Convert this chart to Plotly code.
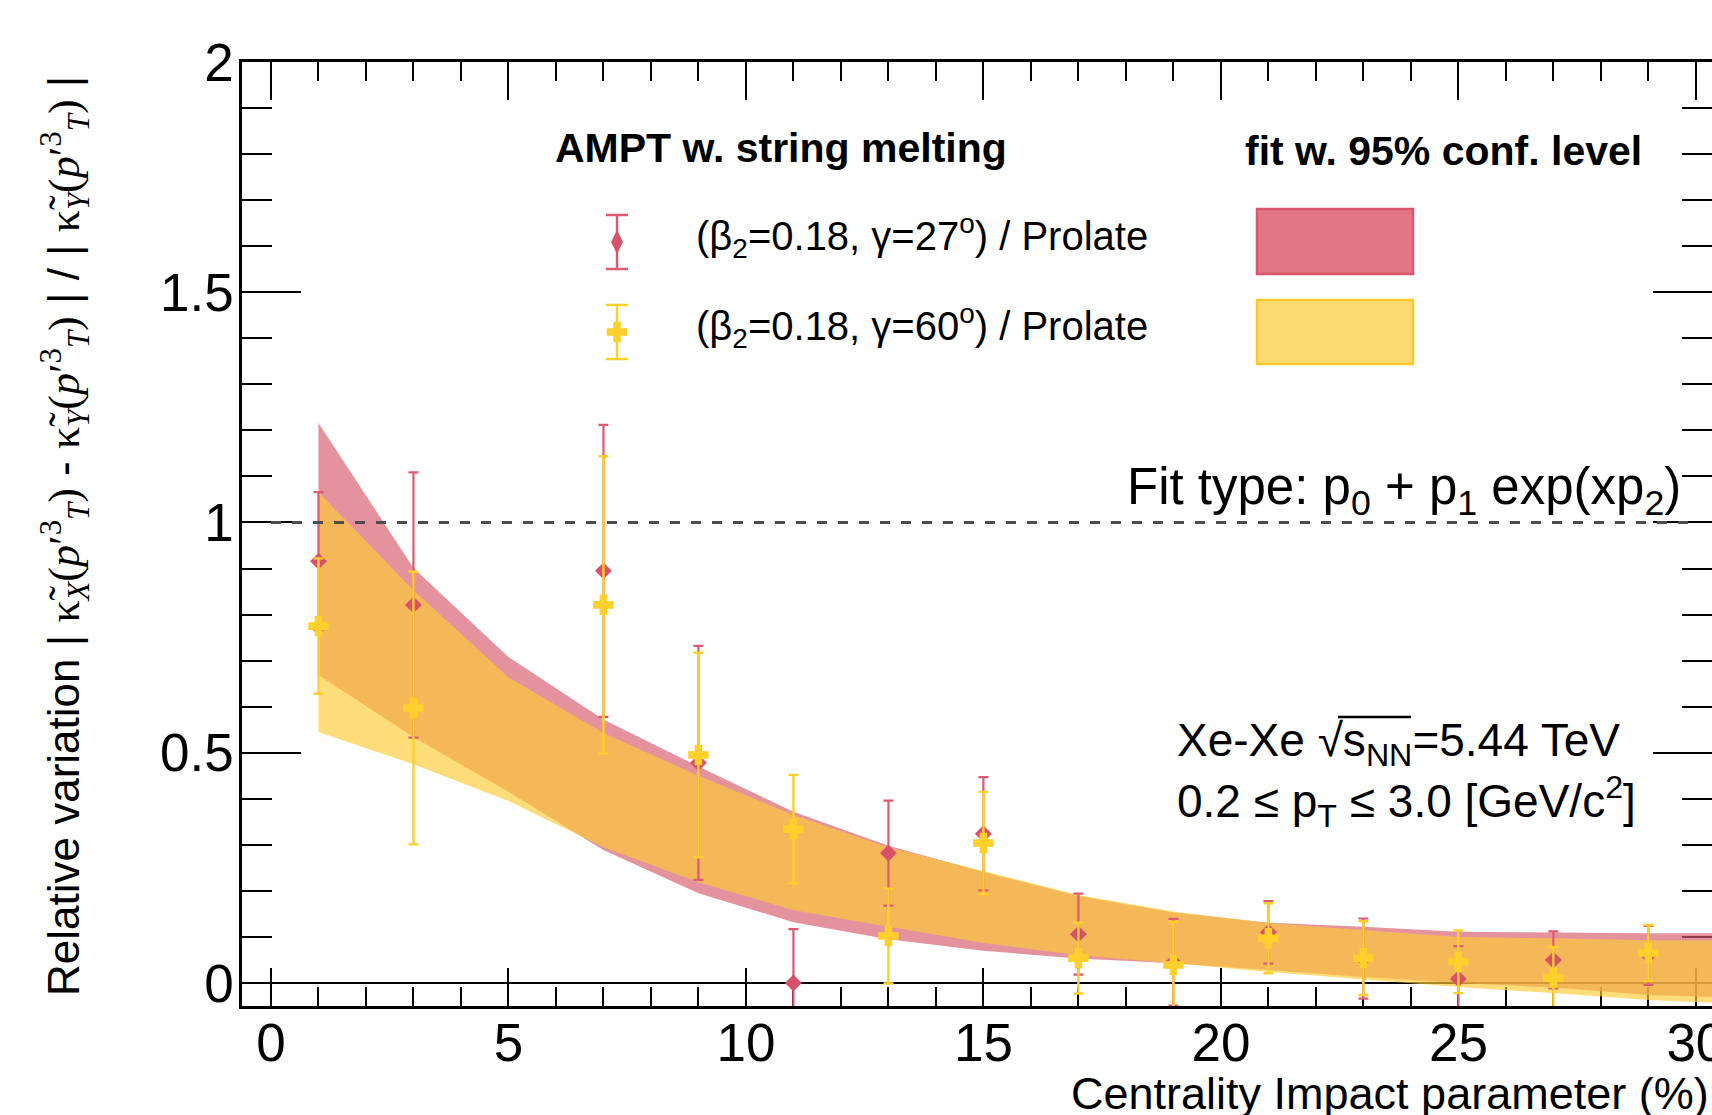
import plotly.graph_objects as go

# ---------------- data ----------------
cent = [1, 3, 7, 9, 11, 13, 15, 17, 19, 21, 23, 25, 27, 29]
red_val = [0.916, 0.821, 0.895, 0.478, 0.000, 0.282, 0.324, 0.106, 0.045, 0.110, 0.053, 0.009, 0.050, 0.060]
red_err = [0.150, 0.288, 0.317, 0.254, 0.117, 0.114, 0.123, 0.088, 0.094, 0.068, 0.087, 0.071, 0.062, 0.064]
yel_val = [0.775, 0.597, 0.821, 0.495, 0.334, 0.102, 0.304, 0.054, 0.039, 0.097, 0.054, 0.046, 0.011, 0.065]
yel_err = [0.147, 0.296, 0.323, 0.222, 0.118, 0.103, 0.111, 0.077, 0.094, 0.076, 0.080, 0.068, 0.067, 0.061]

band_x = [1, 3, 5, 7, 9, 11, 13, 15, 17, 19, 21, 23, 25, 27, 29, 31]
red_hi = [1.216, 0.901, 0.708, 0.572, 0.470, 0.372, 0.298, 0.241, 0.189, 0.153, 0.131, 0.122, 0.111, 0.109, 0.108, 0.108]
red_lo = [0.669, 0.534, 0.415, 0.289, 0.195, 0.132, 0.095, 0.070, 0.053, 0.043, 0.028, 0.013, 0.000, -0.010, -0.026, -0.033]
yel_hi = [1.066, 0.853, 0.664, 0.543, 0.450, 0.365, 0.295, 0.243, 0.191, 0.155, 0.130, 0.115, 0.100, 0.097, 0.093, 0.092]
yel_lo = [0.545, 0.475, 0.395, 0.295, 0.219, 0.158, 0.122, 0.087, 0.060, 0.043, 0.024, 0.007, -0.009, -0.022, -0.037, -0.046]

x_ticks = [0, 5, 10, 15, 20, 25, 30]
y_ticks = [0, 0.5, 1, 1.5, 2]
ref_level = 1.0

# ---------------- style ----------------
W, H = 1712, 1115
L, R, T, B = 242, 0, 62, 109
PW, PH = W - L - R, H - T - B
SANS = "Liberation Sans, Arial, Helvetica, sans-serif"
RED = "#d9506a"
RED_BAR = "#dc5a72"
YEL = "#fdd02c"
RED_FILL = "rgba(214,90,108,0.66)"
YEL_FILL = "rgba(252,204,51,0.66)"


def px_x(p):
    return (p - L) / PW


def px_y(p):
    return (H - B - p) / PH


fig = go.Figure()

# confidence bands
fig.add_trace(go.Scatter(
    x=band_x + band_x[::-1], y=red_hi + red_lo[::-1],
    fill="toself", fillcolor=RED_FILL, mode="lines", line=dict(width=0),
    hoverinfo="skip", showlegend=False))
fig.add_trace(go.Scatter(
    x=band_x + band_x[::-1], y=yel_hi + yel_lo[::-1],
    fill="toself", fillcolor=YEL_FILL, mode="lines", line=dict(width=0),
    hoverinfo="skip", showlegend=False))

# data points
fig.add_trace(go.Scatter(
    x=cent, y=red_val, mode="markers",
    marker=dict(symbol="diamond", size=13, color=RED, line=dict(width=0)),
    error_y=dict(type="data", array=red_err, color=RED_BAR, thickness=2.2, width=5),
    showlegend=False))
fig.add_trace(go.Scatter(
    x=cent, y=yel_val, mode="markers",
    marker=dict(symbol="cross", size=16, color=YEL, line=dict(width=1.2, color=YEL)),
    error_y=dict(type="data", array=yel_err, color=YEL, thickness=2.4, width=5),
    showlegend=False))

# legend samples on an overlay [0,1] axis pair
lx = px_x(617)
fig.add_trace(go.Scatter(
    x=[lx], y=[px_y(242)], xaxis="x2", yaxis="y3", mode="markers",
    marker=dict(symbol="diamond-tall", size=17, color=RED),
    error_y=dict(type="constant", value=27 / PH, color=RED_BAR, thickness=2.4, width=11),
    showlegend=False, hoverinfo="skip"))
fig.add_trace(go.Scatter(
    x=[lx], y=[px_y(332)], xaxis="x2", yaxis="y3", mode="markers",
    marker=dict(symbol="cross", size=16, color=YEL, line=dict(width=1.2, color=YEL)),
    error_y=dict(type="constant", value=27 / PH, color=YEL, thickness=2.4, width=11),
    showlegend=False, hoverinfo="skip"))

# dummy trace for right tick axis
fig.add_trace(go.Scatter(x=[None], y=[None], yaxis="y2", showlegend=False, hoverinfo="skip"))

# reference lines
fig.add_shape(type="line", x0=x_ticks[0], x1=x_ticks[-1], y0=0, y1=0, xref="x", yref="y",
              line=dict(color="black", width=2), layer="below")
fig.add_shape(type="line", x0=x_ticks[0], x1=x_ticks[-1], y0=ref_level, y1=ref_level, xref="x", yref="y",
              line=dict(color="#4d4d4d", width=3, dash="10px,11px"), layer="above")

# legend boxes
fig.add_shape(type="rect", xref="paper", yref="paper",
              x0=px_x(1257), x1=px_x(1413), y0=px_y(274), y1=px_y(209),
              fillcolor="#e07686", line=dict(color="#d9566c", width=2.5))
fig.add_shape(type="rect", xref="paper", yref="paper",
              x0=px_x(1257), x1=px_x(1413), y0=px_y(364), y1=px_y(300),
              fillcolor="#fddb74", line=dict(color="#f9c92b", width=2.5))

# overbar of the square root
fig.add_shape(type="line", xref="paper", yref="paper",
              x0=px_x(1338), x1=px_x(1411), y0=px_y(717), y1=px_y(717),
              line=dict(color="black", width=2.5))


def ann(text, x, y, size, xanchor="left", yanchor="middle", angle=0):
    fig.add_annotation(text=text, x=x, y=y, xref="paper", yref="paper",
                       xanchor=xanchor, yanchor=yanchor, showarrow=False,
                       font=dict(family=SANS, size=size, color="black"),
                       borderpad=0, textangle=angle)


ann("<b>AMPT w. string melting</b>", px_x(554), px_y(148), 41)
ann("<b>fit w. 95% conf. level</b>", px_x(1244), px_y(151), 41)
ann("(β<sub>2</sub>=0.18, γ=27<sup>o</sup>) / Prolate", px_x(695), px_y(236), 40)
ann("(β<sub>2</sub>=0.18, γ=60<sup>o</sup>) / Prolate", px_x(695), px_y(326), 40)
ann("Fit type: p<sub>0</sub> + p<sub>1</sub> exp(xp<sub>2</sub>)", px_x(1126), px_y(490), 51)
ann("Xe-Xe √s<sub>NN</sub>=5.44 TeV", px_x(1176), px_y(743), 46)
ann("0.2 ≤ p<sub>T</sub> ≤ 3.0 [GeV/c<sup>2</sup>]", px_x(1176), px_y(801), 46)
ann("Centrality Impact parameter (%)", px_x(1710), px_y(1093), 45, xanchor="right")

kt = "<span style='font-family:Liberation Serif'>κ̃</span>"
pt = "<span style='font-family:Liberation Serif'><i>p</i>′<sup>3</sup><sub><i>T</i></sub></span>"
sx = "<span style='font-family:Liberation Serif'><sub><i>X</i></sub></span>"
sy = "<span style='font-family:Liberation Serif'><sub><i>Y</i></sub></span>"
lp = "<span style='font-family:Liberation Serif'>(</span>"
rp = "<span style='font-family:Liberation Serif'>)</span>"
ytitle = ("Relative variation | " + kt + sx + lp + pt + rp + " - " + kt + sy + lp + pt + rp +
          " | / | " + kt + sy + lp + pt + rp + " |")
ann(ytitle, px_x(65), px_y(536), 44, xanchor="center", yanchor="middle", angle=-90)

tick_font = dict(family=SANS, size=53, color="black")
fig.update_layout(
    width=W, height=H, margin=dict(l=L, r=R, t=T, b=B, autoexpand=False),
    paper_bgcolor="white", plot_bgcolor="white", showlegend=False,
    xaxis=dict(range=[-0.61, 30.34], tickvals=x_ticks, ticks="inside", ticklen=38, tickwidth=2,
               tickcolor="black", showline=True, linewidth=2.5, linecolor="black", mirror="ticks",
               minor=dict(dtick=1, tick0=0, ticks="inside", ticklen=19, tickwidth=2, tickcolor="black"),
               showgrid=False, zeroline=False, tickfont=tick_font, layer="below traces",
               automargin=False, fixedrange=True, ticklabeloverflow="allow",
               ticklabelstandoff=-11),
    yaxis=dict(range=[-0.05, 2.0], tickvals=y_ticks, ticks="inside", ticklen=59, tickwidth=2,
               tickcolor="black", showline=True, linewidth=2.5, linecolor="black", mirror=False,
               minor=dict(dtick=0.1, tick0=0, ticks="inside", ticklen=30, tickwidth=2, tickcolor="black"),
               showgrid=False, zeroline=False, tickfont=tick_font, layer="below traces",
               automargin=False, fixedrange=True, ticklabelstandoff=-5),
    yaxis2=dict(range=[-0.05, 2.0], overlaying="y", side="right", tickvals=y_ticks, ticks="inside",
                ticklen=59, tickwidth=2, tickcolor="black", showticklabels=False, showline=False,
                minor=dict(dtick=0.1, tick0=0, ticks="inside", ticklen=30, tickwidth=2, tickcolor="black"),
                showgrid=False, zeroline=False, layer="below traces", automargin=False, fixedrange=True),
    xaxis2=dict(range=[0, 1], overlaying="x", visible=False, fixedrange=True),
    yaxis3=dict(range=[0, 1], overlaying="y", visible=False, fixedrange=True),
)

fig.write_html("out.html", config={"displayModeBar": False})
